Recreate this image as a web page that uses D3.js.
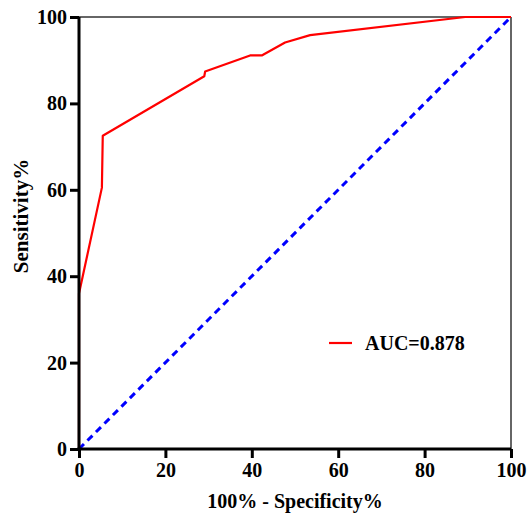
<!DOCTYPE html>
<html lang="en">
<head>
<meta charset="UTF-8">
<title>ROC curve</title>
<script src="https://d3js.org/d3.v7.min.js"></script>
<style>
  html, body { margin: 0; background: #fff; }
  svg { display: block; }
  text { font-family: 'Liberation Serif', 'Times New Roman', serif; font-weight: bold; fill: #000; }
</style>
</head>
<body>
<svg id="chart" width="528" height="516"></svg>
<script>
// ROC points: 100% - specificity (x) and sensitivity (y)
const rocX = [0, 0, 5.3, 5.5, 29.0, 29.2, 39.6, 42.3, 47.7, 53.5, 89.4, 100];
const rocY = [0, 36, 60.5, 72.5, 86.3, 87.4, 91.1, 91.1, 94.1, 95.8, 100, 100];
const refX = [0, 100];
const refY = [0, 100];
const ticks = [0, 20, 40, 60, 80, 100];
const aucLabel = "AUC=0.878";

const svg = d3.select("#chart");
const plot = { left: 79, right: 511, top: 17, bottom: 449 };

const x = d3.scaleLinear().domain([0, 100]).range([plot.left, plot.right]);
const y = d3.scaleLinear().domain([0, 100]).range([plot.bottom, plot.top]);

// thin frame on top and right
svg.append("line")
  .attr("x1", plot.left).attr("x2", plot.right).attr("y1", plot.top).attr("y2", plot.top)
  .attr("stroke", "#333").attr("stroke-width", 1.5);
svg.append("line")
  .attr("x1", plot.right).attr("x2", plot.right).attr("y1", plot.top).attr("y2", plot.bottom)
  .attr("stroke", "#333").attr("stroke-width", 1.5);

// reference diagonal
const line = d3.line().x(d => x(d[0])).y(d => y(d[1]));
svg.append("path")
  .datum(d3.zip(refX, refY))
  .attr("d", line)
  .attr("fill", "none")
  .attr("stroke", "#0000ff")
  .attr("stroke-width", 3)
  .attr("stroke-dasharray", "7,5");

// ROC curve
svg.append("path")
  .datum(d3.zip(rocX, rocY))
  .attr("d", line)
  .attr("fill", "none")
  .attr("stroke", "#ff0000")
  .attr("stroke-width", 2.2)
  .attr("stroke-linejoin", "round");

// axes
const xAxis = svg.append("g")
  .attr("transform", `translate(0,${plot.bottom})`)
  .call(d3.axisBottom(x).tickValues(ticks).tickSize(9).tickPadding(5).tickSizeOuter(0));
const yAxis = svg.append("g")
  .attr("transform", `translate(${plot.left},0)`)
  .call(d3.axisLeft(y).tickValues(ticks).tickSize(9).tickPadding(3).tickSizeOuter(0));

[xAxis, yAxis].forEach(g => {
  g.select(".domain").attr("stroke", "#000").attr("stroke-width", 3);
  g.selectAll(".tick line").attr("stroke", "#000").attr("stroke-width", 3);
  g.selectAll(".tick text")
    .attr("font-family", "'Liberation Serif', 'Times New Roman', serif")
    .attr("font-weight", "bold")
    .attr("font-size", 20)
    .attr("fill", "#000");
});
// domain lines extend slightly to cover the corner
xAxis.select(".domain").attr("d", `M${plot.left - 1.5},0H${plot.right}`);
yAxis.select(".domain").attr("d", `M0,${plot.bottom - plot.bottom + 1.5}`);
yAxis.select(".domain").attr("d", `M0,${plot.bottom + 1.5}V${plot.top}`);

// axis titles
svg.append("text")
  .attr("x", (plot.left + plot.right) / 2)
  .attr("y", 508)
  .attr("text-anchor", "middle")
  .attr("font-size", 20)
  .text("100% - Specificity%");

svg.append("text")
  .attr("transform", "translate(28,216) rotate(-90)")
  .attr("text-anchor", "middle")
  .attr("font-size", 21)
  .text("Sensitivity%");

// legend
svg.append("line")
  .attr("x1", 329).attr("x2", 352).attr("y1", 343).attr("y2", 343)
  .attr("stroke", "#ff0000").attr("stroke-width", 2.2);
svg.append("text")
  .attr("x", 365)
  .attr("y", 350)
  .attr("font-size", 20)
  .text(aucLabel);
</script>
</body>
</html>
